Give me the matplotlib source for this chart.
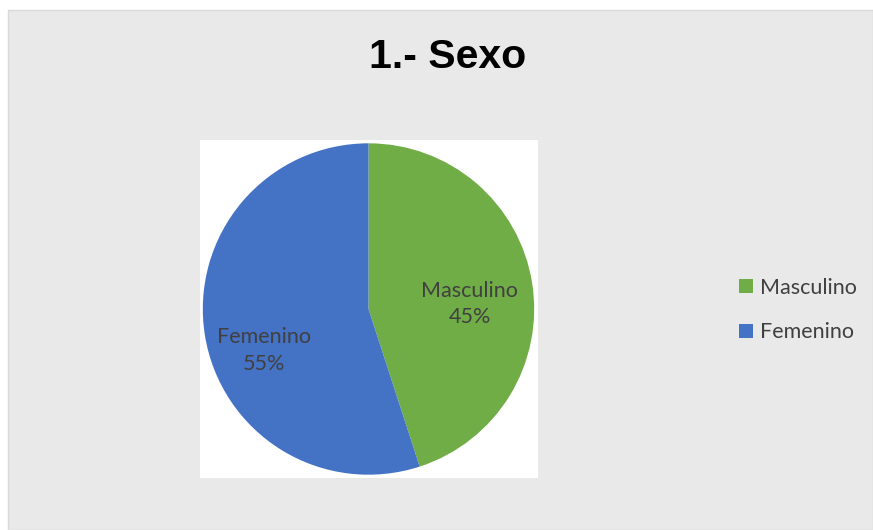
import matplotlib.pyplot as plt
from matplotlib.patches import Rectangle

# data
categories = ["Masculino", "Femenino"]
shares = [45, 55]
colors = ["#70AD47", "#4472C4"]
title = "1.- Sexo"

W, H = 873, 530
fig = plt.figure(figsize=(W / 100, H / 100), dpi=100)
fig.patch.set_facecolor("white")

# grey textured-looking panel (plain fill)
fig.patches.append(Rectangle((8 / W, 0), 1 - 8 / W, 1 - 10 / H, transform=fig.transFigure,
                             facecolor="#E9E9E9", edgecolor="#D9D9D9", lw=1, zorder=-5))

fig.text(448 / W, 1 - 57 / H, title, ha="center", va="center",
         fontsize=29.5, fontweight="bold", family="Liberation Sans", color="black")

# pie area (white square behind the pie)
ax = fig.add_axes([199 / W, 1 - 478 / H, 339 / W, 338 / H])
ax.set_zorder(2)
ax.add_patch(Rectangle((0, 0), 1, 1, transform=ax.transAxes, facecolor="white",
                       edgecolor="none", zorder=-1))
wedges, _ = ax.pie(shares, colors=colors, startangle=90, counterclock=False,
                   wedgeprops=dict(linewidth=0))
ax.set_xlim(-1.02, 1.02)
ax.set_ylim(-1.02, 1.02)
ax.set_aspect("equal")

label_pos = [(0.61, 0.03), (-0.63, -0.25)]
for name, val, (x, y) in zip(categories, shares, label_pos):
    ax.text(x, y, f"{name}\n{val}%", ha="center", va="center", fontsize=15.5,
            family="Lato", color="#404040", linespacing=1.4)

leg = fig.legend(wedges, categories, loc="center left",
                 bbox_to_anchor=(720 / W, 1 - 310 / H), frameon=False,
                 prop=dict(family="Lato", size=15.5), labelcolor="#404040",
                 handlelength=0.65, handleheight=0.65, handletextpad=0.3,
                 labelspacing=1.15)

fig.savefig("out.png", dpi=100, facecolor=fig.get_facecolor())
